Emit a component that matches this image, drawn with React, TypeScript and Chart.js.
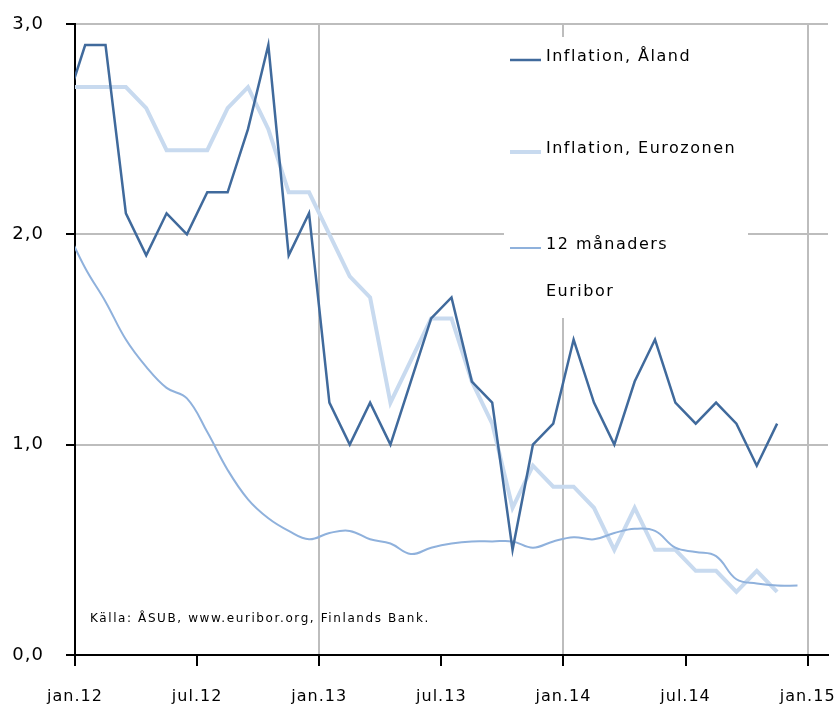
import React, { useEffect, useRef } from "react";
import { Chart, registerables } from "chart.js";

Chart.register(...registerables);

// Months (dec.11 is only partly visible: clipped at the left axis)
const months = [
  "dec.11",
  "jan.12", "feb.12", "mar.12", "apr.12", "maj.12", "jun.12", "jul.12", "aug.12", "sep.12", "okt.12", "nov.12", "dec.12",
  "jan.13", "feb.13", "mar.13", "apr.13", "maj.13", "jun.13", "jul.13", "aug.13", "sep.13", "okt.13", "nov.13", "dec.13",
  "jan.14", "feb.14", "mar.14", "apr.14", "maj.14", "jun.14", "jul.14", "aug.14", "sep.14", "okt.14", "nov.14", "dec.14",
];

const inflationAland = [
  2.6,
  2.9, 2.9, 2.1, 1.9, 2.1, 2.0, 2.2, 2.2, 2.5, 2.9, 1.9, 2.1,
  1.2, 1.0, 1.2, 1.0, 1.3, 1.6, 1.7, 1.3, 1.2, 0.5, 1.0, 1.1,
  1.5, 1.2, 1.0, 1.3, 1.5, 1.2, 1.1, 1.2, 1.1, 0.9, 1.1, null,
];

const inflationEurozone = [
  2.7,
  2.7, 2.7, 2.7, 2.6, 2.4, 2.4, 2.4, 2.6, 2.7, 2.5, 2.2, 2.2,
  2.0, 1.8, 1.7, 1.2, 1.4, 1.6, 1.6, 1.3, 1.1, 0.7, 0.9, 0.8,
  0.8, 0.7, 0.5, 0.7, 0.5, 0.5, 0.4, 0.4, 0.3, 0.4, 0.3, null,
];

const euribor12m = [
  2.04,
  1.84, 1.68, 1.5, 1.37, 1.27, 1.22, 1.06, 0.88, 0.74, 0.65, 0.59, 0.55,
  0.58, 0.59, 0.55, 0.53, 0.48, 0.51, 0.53, 0.54, 0.54, 0.54, 0.51, 0.54,
  0.56, 0.55, 0.58, 0.6, 0.59, 0.51, 0.49, 0.47, 0.36, 0.34, 0.33, 0.33,
];

const tickMonths = [0, 6, 12, 18, 24, 30, 36];
const tickLabels = ["jan.12", "jul.12", "jan.13", "jul.13", "jan.14", "jul.14", "jan.15"];
const yTicks = [0, 1, 2, 3];

const seriesNames = ["Inflation, Åland", "Inflation, Eurozonen", "12 månaders\nEuribor"];
const sourceNote = "Källa: ÅSUB, www.euribor.org, Finlands Bank.";

const FONT = "'DejaVu Sans', Verdana, sans-serif";
const GRID = "#bdbdbd";

const toPoints = (vals: (number | null)[]) =>
  vals.map((v, i) => ({ x: i - 0.5, y: v }));

const spacingPlugin = {
  id: "spacing",
  beforeDraw(chart: any) {
    (chart.ctx as any).letterSpacing = "1px";
  },
};

const legendPlugin = {
  id: "customLegend",
  beforeDatasetsDraw(chart: any) {
    const ctx = chart.ctx;
    ctx.save();
    (ctx as any).letterSpacing = "1.5px";
    // legend box (covers grid lines)
    ctx.fillStyle = "#ffffff";
    ctx.fillRect(504, 37, 244, 281);
    const rows = [60, 152, 248];
    ctx.font = `16px ${FONT}`;
    ctx.textBaseline = "middle";
    ctx.textAlign = "left";
    chart.data.datasets.forEach((ds: any, i: number) => {
      const y = rows[i];
      ctx.strokeStyle = ds.borderColor;
      ctx.lineWidth = ds.borderWidth;
      ctx.beginPath();
      ctx.moveTo(510, y);
      ctx.lineTo(541, y);
      ctx.stroke();
      ctx.fillStyle = "#000";
      const lines = String(ds.label).split("\n");
      lines.forEach((t: string, k: number) => {
        ctx.fillText(t, 546, y - 3 + k * 47);
      });
    });
    // source note
    ctx.font = `12px ${FONT}`;
    (ctx as any).letterSpacing = "1.6px";
    ctx.fillStyle = "#000";
    ctx.fillText(sourceNote, 90, 619);
    ctx.restore();
  },
};

export default function App() {
  const ref = useRef<HTMLCanvasElement>(null);

  useEffect(() => {
    const chart = new Chart(ref.current as HTMLCanvasElement, {
      type: "line",
      data: {
        datasets: [
          {
            label: seriesNames[0],
            data: toPoints(inflationAland) as any,
            borderColor: "#406a9c",
            borderWidth: 2.5,
            pointRadius: 0,
            tension: 0,
            order: 0,
          },
          {
            label: seriesNames[1],
            data: toPoints(inflationEurozone) as any,
            borderColor: "#c8daef",
            borderWidth: 4,
            pointRadius: 0,
            tension: 0,
            order: 2,
          },
          {
            label: seriesNames[2],
            data: toPoints(euribor12m) as any,
            borderColor: "#8fb1dc",
            borderWidth: 2,
            pointRadius: 0,
            tension: 0.4,
            order: 1,
          },
        ],
      },
      options: {
        responsive: false,
        animation: false,
        devicePixelRatio: 1,
        layout: { padding: { top: 24, right: 10, left: 0, bottom: 0 } },
        plugins: {
          legend: { display: false },
          tooltip: { enabled: false },
        },
        scales: {
          x: {
            type: "linear",
            min: 0,
            max: 37,
            afterBuildTicks: (s: any) => {
              s.ticks = tickMonths.map((v) => ({ value: v }));
            },
            afterFit: (s: any) => {
              s.height = 62;
              s.paddingLeft = 0;
              s.paddingRight = 0;
            },
            ticks: {
              autoSkip: false,
              maxRotation: 0,
              padding: 21,
              color: "#000",
              font: { family: FONT, size: 16 },
              callback: (v: any) => tickLabels[tickMonths.indexOf(Number(v))] ?? "",
            },
            grid: {
              color: (c: any) =>
                c.tick && c.tick.value > 0 && c.tick.value % 12 === 0 ? GRID : "rgba(0,0,0,0)",
              lineWidth: 2,
              tickColor: "#000",
              tickWidth: 2,
              tickLength: 11,
            },
            border: { color: "#000", width: 2 },
          },
          y: {
            min: 0,
            max: 3,
            afterBuildTicks: (s: any) => {
              s.ticks = yTicks.map((v) => ({ value: v }));
            },
            afterFit: (s: any) => {
              s.width = 75;
              s.paddingTop = 0;
              s.paddingBottom = 0;
            },
            ticks: {
              padding: 22,
              color: "#000",
              font: { family: FONT, size: 18 },
              callback: (v: any) => Number(v).toFixed(1).replace(".", ","),
            },
            grid: {
              color: (c: any) => (c.tick && c.tick.value > 0 ? GRID : "rgba(0,0,0,0)"),
              lineWidth: 2,
              tickColor: "#000",
              tickWidth: 2,
              tickLength: 9,
            },
            border: { color: "#000", width: 2 },
          },
        },
      },
      plugins: [spacingPlugin, legendPlugin],
    });
    return () => chart.destroy();
  }, []);

  return (
    <div style={{ position: "fixed", left: 0, top: 0, width: 838, height: 717, background: "#fff" }}>
      <canvas ref={ref} width={838} height={717} style={{ width: 838, height: 717, display: "block" }} />
    </div>
  );
}
